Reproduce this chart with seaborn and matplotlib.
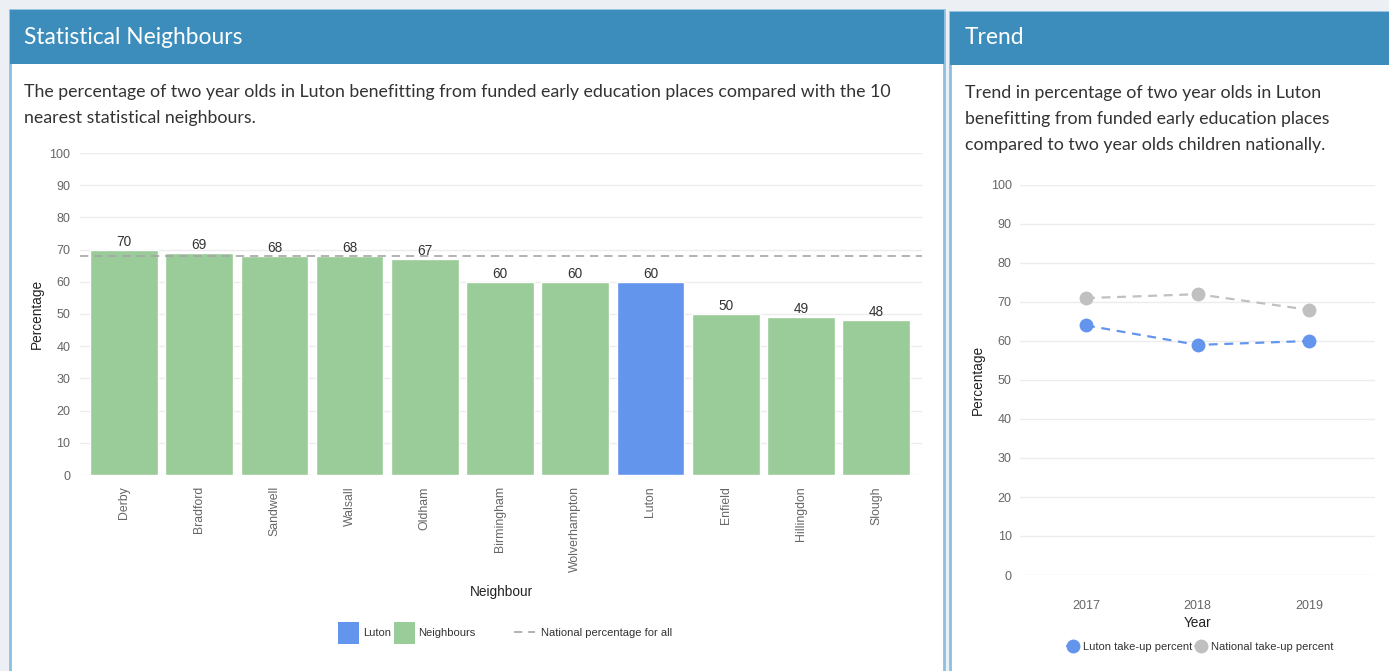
import matplotlib
matplotlib.use("Agg")
import matplotlib.pyplot as plt
import seaborn as sns
import pandas as pd
from matplotlib.patches import Rectangle, Patch
from matplotlib.lines import Line2D

# ---------------- data ----------------
neighbours = ["Derby", "Bradford", "Sandwell", "Walsall", "Oldham", "Birmingham",
              "Wolverhampton", "Luton", "Enfield", "Hillingdon", "Slough"]
neighbour_values = [70, 69, 68, 68, 67, 60, 60, 60, 50, 49, 48]
national_all = 68

years = [2017, 2018, 2019]
luton_trend = [64, 59, 60]
national_trend = [71, 72, 68]

# ---------------- style ----------------
sns.set_theme(style="white")
plt.rcParams["font.family"] = ["Liberation Sans", "DejaVu Sans"]

W, H = 1389, 671
fig = plt.figure(figsize=(W / 100, H / 100), dpi=100)
fig.patch.set_facecolor("#ecf0f5")

HEADER = "#3c8dbc"
BORDER = "#8dbfe0"
GREEN = "#99cc99"
BLUE = "#6495ed"
SILVER = "#c0c0c0"
GRID = "#ececec"
TICK = "#666666"
PANEL_FONT = "Lato"


def px_rect(x0, y0, x1, y1, **kw):
    r = Rectangle((x0 / W, 1 - y1 / H), (x1 - x0) / W, (y1 - y0) / H,
                  transform=fig.transFigure, zorder=-10, **kw)
    fig.patches.append(r)


def px_axes(x0, y0, x1, y1):
    a = fig.add_axes([x0 / W, 1 - y1 / H, (x1 - x0) / W, (y1 - y0) / H])
    a.patch.set_alpha(0)
    return a


def px_text(x, y, s, **kw):
    fig.text(x / W, 1 - y / H, s, transform=fig.transFigure, **kw)


# panels
px_rect(10, 10, 944, 680, facecolor="white", edgecolor=BORDER, linewidth=2)
px_rect(10, 10, 944, 64, facecolor=HEADER, edgecolor="none")
px_rect(950, 12, 1400, 680, facecolor="white", edgecolor=BORDER, linewidth=2)
px_rect(950, 12, 1400, 65, facecolor=HEADER, edgecolor="none")

SUB = 12.8
px_text(24, 37, "Statistical Neighbours", color="white", fontsize=16.4,
        family=PANEL_FONT, va="center", ha="left")
px_text(24, 92, "The percentage of two year olds in Luton benefitting from funded early education places compared with the 10",
        color="#333333", fontsize=SUB, family=PANEL_FONT, va="center", ha="left")
px_text(24, 118, "nearest statistical neighbours.",
        color="#333333", fontsize=SUB, family=PANEL_FONT, va="center", ha="left")

px_text(965, 38, "Trend", color="white", fontsize=16.4,
        family=PANEL_FONT, va="center", ha="left")
for i, line in enumerate(["Trend in percentage of two year olds in Luton",
                          "benefitting from funded early education places",
                          "compared to two year olds children nationally."]):
    px_text(965, 93 + 26 * i, line, color="#333333", fontsize=SUB,
            family=PANEL_FONT, va="center", ha="left")

# ---------------- bar chart ----------------
ax = px_axes(80, 153, 922, 475)
df = pd.DataFrame({
    "Neighbour": neighbours,
    "Percentage": neighbour_values,
    "Group": ["Luton" if n == "Luton" else "Neighbours" for n in neighbours],
})
sns.barplot(data=df, x="Neighbour", y="Percentage", hue="Group",
            palette={"Luton": BLUE, "Neighbours": GREEN}, dodge=False,
            width=0.9, legend=False, ax=ax, saturation=1, zorder=2)
ax.axhline(national_all, color="#a6a6a6", lw=1.2, dashes=(5, 3.5), zorder=3)
for i, v in enumerate(neighbour_values):
    ax.text(i, v + 0.3, f"{v}", ha="center", va="bottom", fontsize=9.8,
            color="#333333", zorder=4)
ax.set_xlim(-0.585, 10.61)
ax.set_ylim(0, 100)
ax.set_yticks(range(0, 101, 10))
ax.yaxis.grid(True, color=GRID, lw=1)
ax.set_axisbelow(True)
for s in ax.spines.values():
    s.set_visible(False)
ax.tick_params(axis="y", length=0, pad=7, labelsize=9, labelcolor=TICK)
ax.tick_params(axis="x", length=0, pad=8, labelsize=8.8, labelcolor=TICK,
               labelrotation=90)
ax.set_xlabel("Neighbour", fontsize=9.8, color="#222222", labelpad=9)
ax.set_ylabel("Percentage", fontsize=9.8, color="#222222", labelpad=4)

h_patch = [Patch(facecolor=BLUE, edgecolor="none", label="Luton"),
           Patch(facecolor=GREEN, edgecolor="none", label="Neighbours")]
fig.legend(handles=h_patch, loc="center", bbox_to_anchor=(407 / W, 1 - 633 / H),
           ncol=2, frameon=False, fontsize=8, handlelength=1.9, handleheight=2.7,
           handletextpad=0.3, columnspacing=0.3, labelcolor="#333333")
h_line = [Line2D([0], [0], color="#a6a6a6", lw=1.2, dashes=(5, 3.5),
                 label="National percentage for all")]
fig.legend(handles=h_line, loc="center", bbox_to_anchor=(593 / W, 1 - 633 / H),
           frameon=False, fontsize=8, handlelength=1.9,
           handletextpad=0.5, labelcolor="#333333")

# ---------------- trend chart ----------------
ax2 = px_axes(1020, 185, 1375, 575)
tdf = pd.DataFrame({
    "Year": years * 2,
    "Percentage": luton_trend + national_trend,
    "Series": ["Luton take-up percent"] * 3 + ["National take-up percent"] * 3,
})
sns.lineplot(data=tdf, x="Year", y="Percentage", hue="Series", style="Series",
             palette={"Luton take-up percent": BLUE, "National take-up percent": SILVER},
             markers={"Luton take-up percent": "o", "National take-up percent": "o"},
             dashes={"Luton take-up percent": (4, 3), "National take-up percent": (4, 3)},
             markersize=10, markeredgewidth=0, linewidth=1.6, legend=False, ax=ax2)
ax2.set_xlim(2016.408, 2019.592)
ax2.set_ylim(0, 100)
ax2.set_yticks(range(0, 101, 10))
ax2.set_xticks(years)
ax2.yaxis.grid(True, color=GRID, lw=1)
ax2.set_axisbelow(True)
for s in ax2.spines.values():
    s.set_visible(False)
ax2.tick_params(axis="y", length=0, pad=6, labelsize=9, labelcolor=TICK)
ax2.tick_params(axis="x", length=0, pad=18, labelsize=9, labelcolor=TICK)
ax2.set_xlabel("Year", fontsize=9.8, color="#222222", labelpad=3)
ax2.set_ylabel("Percentage", fontsize=9.8, color="#222222", labelpad=4)

h2 = [Line2D([0], [0], color=BLUE, marker="o", markersize=10, markeredgewidth=0,
             lw=1.6, label="Luton take-up percent"),
      Line2D([0], [0], color=SILVER, marker="o", markersize=10, markeredgewidth=0,
             lw=1.6, label="National take-up percent")]
fig.legend(handles=h2, loc="center", bbox_to_anchor=(1200 / W, 1 - 647 / H),
           ncol=2, frameon=False, fontsize=8, handlelength=1.0,
           handletextpad=0.4, columnspacing=0.3, labelcolor="#333333")

fig.savefig("out.png", dpi=100, facecolor=fig.get_facecolor())
